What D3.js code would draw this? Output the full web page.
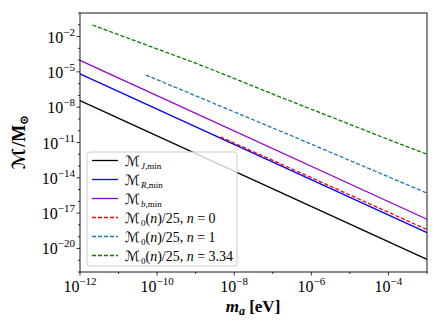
<!DOCTYPE html>
<html>
<head>
<meta charset="utf-8">
<script src="https://cdn.jsdelivr.net/npm/d3@7"></script>
<style>
  body { margin: 0; background: #fff; }
  svg text { font-family: "Liberation Serif", "DejaVu Serif", serif; fill: #000; }
  .cal { font-family: "DejaVu Sans", serif; font-style: normal; font-weight: normal; }
</style>
</head>
<body>
<svg id="chart" width="440" height="330"></svg>
<script>
// log10 values
const jMinX = [-12, -3];
const jMinY = [-7.45, -20.93];
const rMinX = [-12, -3];
const rMinY = [-5.17, -18.65];
const bMinX = [-12, -3];
const bMinY = [-4.02, -17.52];
const n0X = [-8.36, -3];
const n0Y = [-10.52, -18.4];
const n1X = [-10.29, -6.5, -3];
const n1Y = [-5.27, -10.45, -15.3];
const n334X = [-11.68, -8.92, -6.82, -3.74, -3];
const n334Y = [-1.02, -4.36, -7.12, -11.08, -11.99];

const xTicks = [-12, -10, -8, -6, -4];
const yTicks = [-20, -17, -14, -11, -8, -5, -2];

const series = [
  { name: "J", xs: jMinX, ys: jMinY, color: "#000000", dash: null },
  { name: "R", xs: rMinX, ys: rMinY, color: "#0000ff", dash: null },
  { name: "b", xs: bMinX, ys: bMinY, color: "#9400d3", dash: null },
  { name: "0", xs: n0X, ys: n0Y, color: "#ff0000", dash: "4,2" },
  { name: "1", xs: n1X, ys: n1Y, color: "#1f77b4", dash: "4,2" },
  { name: "3.34", xs: n334X, ys: n334Y, color: "#008000", dash: "4,2" }
];

const svg = d3.select("#chart");
const m = { left: 80, right: 427, top: 13, bottom: 272 };

const x = d3.scaleLog().domain([1e-12, 1e-3]).range([m.left, m.right]);
const y = d3.scaleLog().domain([1e-22, 1e0]).range([m.bottom, m.top]);

const line = d3.line().x(d => x(d[0])).y(d => y(d[1]));

const plot = svg.append("g");
for (const s of series) {
  const pts = s.xs.map((v, i) => [Math.pow(10, v), Math.pow(10, s.ys[i])]);
  plot.append("path")
    .attr("d", line(pts))
    .attr("fill", "none")
    .attr("stroke", s.color)
    .attr("stroke-width", 1.3)
    .attr("stroke-dasharray", s.dash);
}

// ticks
const tickG = svg.append("g").attr("stroke", "#000").attr("stroke-width", 0.8);
for (let e = -12; e <= -3; e++) {
  const major = xTicks.includes(e);
  tickG.append("line")
    .attr("x1", x(Math.pow(10, e))).attr("x2", x(Math.pow(10, e)))
    .attr("y1", m.bottom).attr("y2", m.bottom + (major ? 3.5 : 2));
}
for (let e = -22; e <= 0; e++) {
  const major = yTicks.includes(e);
  tickG.append("line")
    .attr("y1", y(Math.pow(10, e))).attr("y2", y(Math.pow(10, e)))
    .attr("x1", m.left).attr("x2", m.left - (major ? 3.5 : 2));
}

// tick labels
for (const e of xTicks) {
  const t = svg.append("text")
    .attr("x", x(Math.pow(10, e)))
    .attr("y", m.bottom + 20)
    .attr("text-anchor", "middle")
    .attr("font-size", 16);
  t.append("tspan").text("10");
  t.append("tspan").attr("dy", -7).attr("font-size", 11).text("\u2212" + (-e));
}
for (const e of yTicks) {
  const t = svg.append("text")
    .attr("x", m.left - 5)
    .attr("y", y(Math.pow(10, e)) + 6)
    .attr("text-anchor", "end")
    .attr("font-size", 16);
  t.append("tspan").text("10");
  t.append("tspan").attr("dy", -7).attr("font-size", 11).text("\u2212" + (-e));
}

// frame
svg.append("rect")
  .attr("x", m.left).attr("y", m.top)
  .attr("width", m.right - m.left).attr("height", m.bottom - m.top)
  .attr("fill", "none").attr("stroke", "#000").attr("stroke-width", 0.9);

// axis labels
const xl = svg.append("text")
  .attr("x", 253).attr("y", 312)
  .attr("text-anchor", "middle")
  .attr("font-size", 17).attr("font-weight", "bold");
xl.append("tspan").attr("font-style", "italic").text("m");
xl.append("tspan").attr("font-style", "italic").attr("font-size", 12).attr("dy", 3).text("a");
xl.append("tspan").attr("dy", -3).text(" [eV]");

const yl = svg.append("text")
  .attr("transform", "translate(25,142) rotate(-90)")
  .attr("text-anchor", "middle")
  .attr("font-size", 18).attr("font-weight", "bold");
yl.append("tspan").attr("class", "cal").style("font-weight", "bold").text("\u2133");
yl.append("tspan").attr("dx", 1).text("/M");
yl.append("tspan").attr("font-size", 12).attr("dy", 3).text("\u2299");

// legend
const leg = svg.append("g");
leg.append("rect")
  .attr("x", 87).attr("y", 152)
  .attr("width", 150).attr("height", 114)
  .attr("rx", 3)
  .attr("fill", "#fff").attr("fill-opacity", 0.8)
  .attr("stroke", "#ccc").attr("stroke-width", 1);

const legLabels = [
  ["", "J,min"],
  ["", "R,min"],
  ["", "b,min"],
  ["0", "(n)/25, n = 0"],
  ["0", "(n)/25, n = 1"],
  ["0", "(n)/25, n = 3.34"]
];
series.forEach((s, i) => {
  const cy = 160.5 + i * 19;
  leg.append("line")
    .attr("x1", 92).attr("x2", 118)
    .attr("y1", cy).attr("y2", cy)
    .attr("stroke", s.color).attr("stroke-width", 1.3)
    .attr("stroke-dasharray", s.dash);
  const t = leg.append("text")
    .attr("x", 125).attr("y", cy + 5)
    .attr("font-size", 14);
  t.append("tspan").attr("class", "cal").text("\u2133");
  const [sub, rest] = legLabels[i];
  if (sub === "") {
    const parts = rest.split(",");
    t.append("tspan").attr("font-size", 9).attr("dx", 1).attr("dy", 3).attr("font-style", "italic").text(parts[0] + ",");
    t.append("tspan").attr("font-size", 9).text("min");
  } else {
    t.append("tspan").attr("font-size", 9).attr("dx", 1).attr("dy", 3).text(sub);
    t.append("tspan").attr("dy", -3).text("(");
    t.append("tspan").attr("font-style", "italic").text("n");
    t.append("tspan").text(")/25, ");
    t.append("tspan").attr("font-style", "italic").text("n");
    t.append("tspan").text(" = " + rest.split("= ")[1]);
  }
});
</script>
</body>
</html>
